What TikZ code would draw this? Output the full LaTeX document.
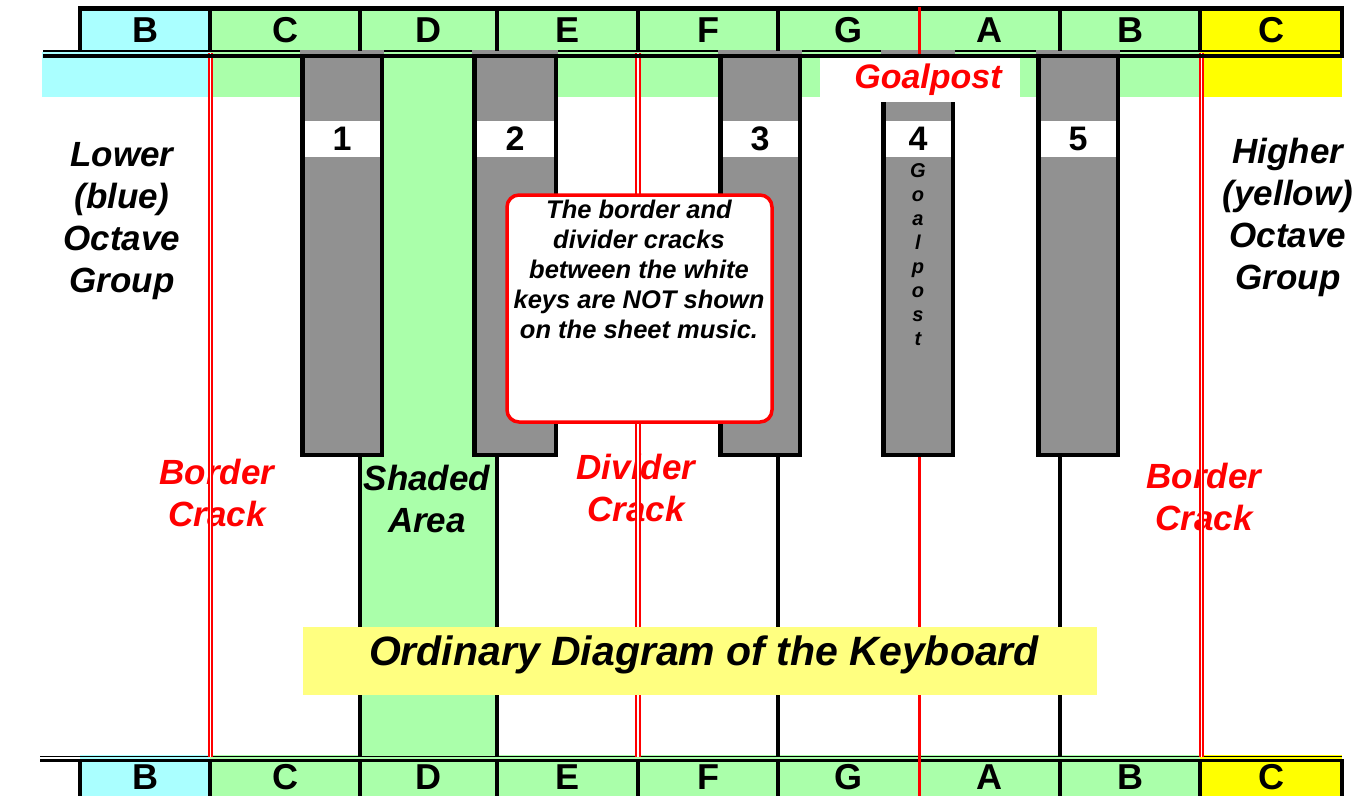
\documentclass[tikz,border=0pt]{standalone}
\usepackage{fontspec}
\setmainfont{Liberation Sans}
\definecolor{keyblue}{HTML}{AAFFFF}
\definecolor{keygreen}{HTML}{AAFFAA}
\definecolor{keyyellow}{HTML}{FFFF00}
\definecolor{keygray}{HTML}{919191}
\definecolor{titleyellow}{HTML}{FFFF80}
\tikzset{
	notename/.style={font=\fontsize{36}{36}\selectfont\bfseries},
	keynum/.style={font=\fontsize{34}{34}\selectfont\bfseries},
	bignote/.style={font=\fontsize{35}{42}\selectfont\bfseries\itshape,align=center},
	crackline/.style={red,line width=2pt,double=white,double distance=1.5pt},
	keyline/.style={line width=4.5pt},
}
\begin{document}
\begin{tikzpicture}[x=1pt,y=-1pt]
		\useasboundingbox (0,0) rectangle (1366,796);
		
		\foreach \a/\b/\n/\c in {80/210/B/keyblue,210/360/C/keygreen,360/497/D/keygreen,497/638/E/keygreen,638/778/F/keygreen,778/919/G/keygreen,919/1060/A/keygreen,1060/1200/B/keygreen,1200/1342/C/keyyellow}{
			\fill[\c] (\a,9) rectangle (\b,52);
			\fill[\c] (\a,755) rectangle (\b,796);
			\node[notename] (top\n\a) at ({(\a+\b)/2},30) {\n};
			\node[notename] (bot\n\a) at ({(\a+\b)/2},777) {\n}; }
		\fill[keyblue] (42,52) rectangle (210,97);
		\fill[keygreen] (210,52) rectangle (1200,97);
		\fill[keyyellow] (1200,52) rectangle (1342,97);
		\fill[keygreen] (360,97) rectangle (497,757);%shaded area
		
		\draw[line width=1.5pt] (43,51) -- (1342,51);
		\draw[line width=1.5pt] (40,756.5) -- (1342,756.5);
		
		\foreach \l/\r in {300/384,472/558,718/802,881/955,1036/1120}{
			\fill[keygray] (\l,50) rectangle (\r,457); }
		\fill[white] (820,56) rectangle (1020,102);
		\node[font=\fontsize{34}{34}\selectfont\bfseries\itshape,red] (goal) at (928,80) {Goalpost};
		\foreach \l/\r/\t/\n in {300/384/55/1,472/558/55/2,718/802/55/3,881/955/102/4,1036/1120/55/5}{
			\fill[white] (\l+4,121) rectangle (\r-4,157);
			\draw[keyline] (\l+2.25,\t) -- (\l+2.25,454.75) -- (\r-2.25,454.75) -- (\r-2.25,\t);
			\node[keynum] (key\n) at ({(\l+\r)/2},139) {\n}; }
		\foreach \ch [count=\i from 0] in {G,o,a,l,p,o,s,t}{
			\node[font=\fontsize{20}{20}\selectfont\bfseries\itshape,anchor=base] (post\i) at (918,{177+24*\i}) {\ch}; }
		
		\foreach \x in {360,497,778,1060}{
			\draw[keyline] (\x,455) -- (\x,757); }
		
		\node[bignote] (lower) at (122,221) {Lower\\(blue)\\Octave\\Group};
		\node[bignote] (higher) at (1288,217) {Higher\\(yellow)\\Octave\\Group};
		\node[bignote,red] (borderL) at (217,493) {Border\\Crack};
		\node[bignote,red] (borderR) at (1204,497) {Border\\Crack};
		\node[bignote,red] (divider) at (636,488) {Divider\\Crack};
		\node[bignote] (shaded) at (427,499) {Shaded\\Area};
		
		\foreach \x in {210.5,638,1201.5}{
			\draw[crackline] (\x,53) -- (\x,757); }
		
		\draw[red,line width=3.5pt,fill=white,rounded corners=12pt] (507,195) rectangle (772,422);
		\node[font=\fontsize{25.5}{30}\selectfont\bfseries\itshape,align=center,anchor=north] (note) at (639,196) {The border and\\divider cracks\\between the white\\keys are NOT shown\\on the sheet music.};
		
		\draw[line width=4.5pt] (80,52) -- (80,8.5) -- (1342,8.5) -- (1342,58);
		\draw[line width=3.5pt] (43,56) -- (1344,56);
		\draw[line width=3pt] (40,760.5) -- (1344,760.5);
		\foreach \x in {80,210,360,497,638,778,1060,1200,1342}{
			\draw[keyline] (\x,761) -- (\x,796); }
		\foreach \x in {210,360,497,638,778,1060,1200}{
			\draw[keyline] (\x,8) -- (\x,51); }
		\draw[red,line width=3pt] (919,7) -- (919,54);
		\draw[red,line width=3pt] (919,457) -- (919,796);%goalpost
		
		\fill[titleyellow] (303,627) rectangle (1097,695);
		\node[font=\fontsize{41}{41}\selectfont\bfseries\itshape] (title) at (704,655) {Ordinary Diagram of the Keyboard};
		
	\end{tikzpicture}
\end{document}
